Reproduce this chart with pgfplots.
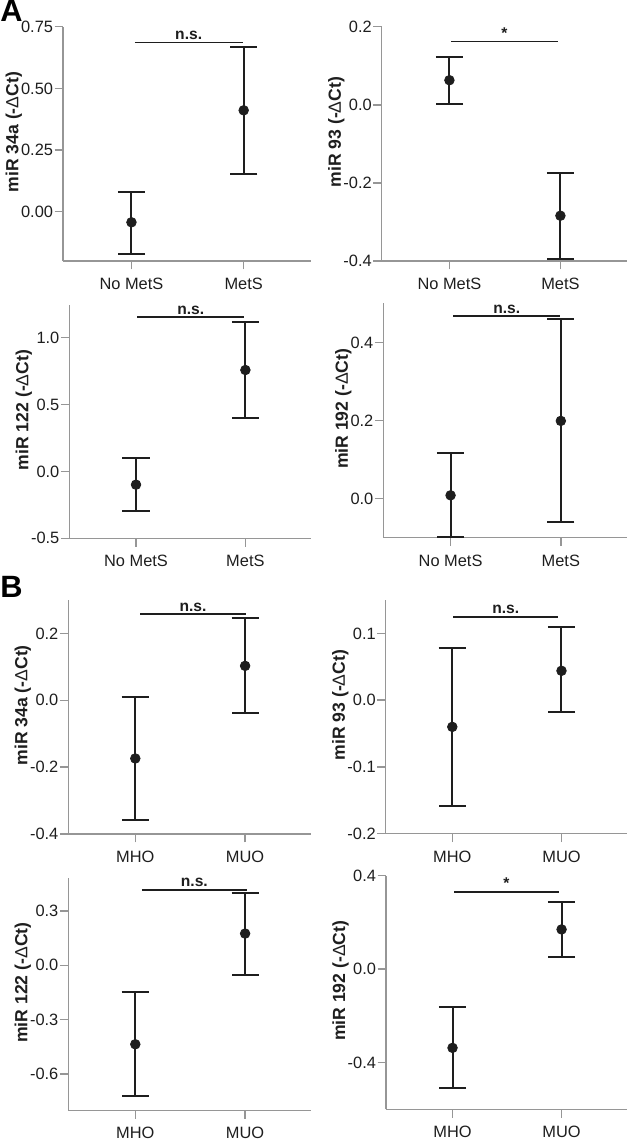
\documentclass[border=0pt]{standalone}
\usepackage{pgfplots}
\pgfplotsset{compat=1.18}
\usepackage{fontspec}
\setmainfont{Liberation Sans}
\definecolor{axgray}{RGB}{150,150,150}
\definecolor{ink}{RGB}{30,30,30}
\tikzset{siglab/.style={above, inner sep=1pt, font=\bfseries\fontsize{7.8}{9}\selectfont, text=ink}}
\pgfplotsset{
  panel/.style={
    scale only axis, anchor=south west, clip=false,
    xmin=-0.61, xmax=1.6, xtick={0,1},
    axis lines*=left,
    axis line style={draw=axgray, line width=0.7pt},
    tick align=outside, major tick length=4.2pt,
    every tick/.style={draw=axgray, line width=0.7pt},
    tick label style={font=\fontsize{8.2}{9.8}\selectfont, text=ink},
    yticklabel style={inner sep=0.6pt},
    xticklabel style={yshift=-0.7pt},
    /pgf/number format/assume math mode=true,
    /pgf/number format/fixed, /pgf/number format/fixed zerofill,
    ylabel style={font=\bfseries\fontsize{8.8}{10}\selectfont, text=ink, at={(ticklabel cs:0.55)}, inner sep=1.2pt},
    ylabel shift=-2.5pt,
  },
  pts/.style={only marks, mark=*, mark size=2.4pt, color=ink,
    error bars/.cd, y dir=both, y explicit,
    error bar style={line width=1pt, color=ink},
    error mark options={rotate=90, mark size=6.8pt, line width=1pt, color=ink}},
  sig/.style={draw=ink, line width=0.85pt, mark=none},
}
\begin{document}
\begin{tikzpicture}
\path[use as bounding box] (0,0) rectangle (315.5pt,-570.5pt);
\node[anchor=base west, inner sep=0pt, font=\bfseries\fontsize{15.4}{18}\selectfont] at (0pt,-10.9pt) {A};
\node[anchor=base west, inner sep=0pt, font=\bfseries\fontsize{15.4}{18}\selectfont] at (0pt,-298.6pt) {B};

% Panel 1
\begin{axis}[panel, at={(31.5pt,-130.5pt)}, width=124pt, height=117.15pt,
  ymin=-0.2, ymax=0.75, ytick={0,0.25,0.5,0.75}, /pgf/number format/precision=2,
  xticklabels={No MetS, MetS}, ylabel={miR 34a (-{\mdseries Δ}Ct)}]
\addplot[pts] table[x=x, y=y, y error plus=ep, y error minus=em] {
x y ep em
0 -0.043 0.123 0.127
1 0.411 0.258 0.259
};
\addplot[sig] coordinates {(0.03,0.686) (0.99,0.686)} node[pos=0.5, siglab] {n.s.};
\end{axis}

% Panel 2
\begin{axis}[panel, at={(190.85pt,-130.5pt)}, width=122.65pt, height=117.15pt,
  ymin=-0.4, ymax=0.2, ytick={-0.4,-0.2,0,0.2}, /pgf/number format/precision=1,
  xticklabels={No MetS, MetS}, ylabel={miR 93 (-{\mdseries Δ}Ct)}]
\addplot[pts] table[x=x, y=y, y error plus=ep, y error minus=em] {
x y ep em
0 0.063 0.060 0.060
1 -0.284 0.110 0.111
};
\addplot[sig] coordinates {(0.015,0.162) (0.975,0.162)} node[pos=0.5, siglab] {*};
\end{axis}

% Panel 3
\begin{axis}[panel, at={(34.65pt,-269.15pt)}, width=120.85pt, height=116.65pt,
  ymin=-0.5, ymax=1.244, ytick={-0.5,0,0.5,1.0}, /pgf/number format/precision=1,
  xticklabels={No MetS, MetS}, ylabel={miR 122 (-{\mdseries Δ}Ct)}]
\addplot[pts] table[x=x, y=y, y error plus=ep, y error minus=em] {
x y ep em
0 -0.099 0.196 0.200
1 0.758 0.361 0.360
};
\addplot[sig] coordinates {(0.012,1.153) (0.99,1.153)} node[pos=0.5, siglab] {n.s.};
\end{axis}

% Panel 4
\begin{axis}[panel, at={(191.65pt,-268.85pt)}, width=121.85pt, height=117.2pt,
  ymin=-0.1, ymax=0.5, ytick={0,0.2,0.4}, /pgf/number format/precision=1,
  xticklabels={No MetS, MetS}, ylabel={miR 192 (-{\mdseries Δ}Ct)}]
\addplot[pts] table[x=x, y=y, y error plus=ep, y error minus=em] {
x y ep em
0 0.0085 0.1075 0.1065
1 0.199 0.260 0.259
};
\addplot[sig] coordinates {(0.025,0.467) (0.994,0.467)} node[pos=0.5, siglab] {n.s.};
\end{axis}

% Panel 5
\begin{axis}[panel, at={(34.15pt,-417pt)}, width=121.35pt, height=117pt,
  ymin=-0.4, ymax=0.3, ytick={-0.4,-0.2,0,0.2}, /pgf/number format/precision=1,
  xticklabels={MHO, MUO}, ylabel={miR 34a (-{\mdseries Δ}Ct)}]
\addplot[pts] table[x=x, y=y, y error plus=ep, y error minus=em] {
x y ep em
0 -0.174 0.183 0.183
1 0.103 0.144 0.141
};
\addplot[sig] coordinates {(0.045,0.258) (1.006,0.258)} node[pos=0.5, siglab] {n.s.};
\end{axis}

% Panel 6
\begin{axis}[panel, at={(192.85pt,-416.85pt)}, width=120.65pt, height=116.85pt,
  ymin=-0.2, ymax=0.15, ytick={-0.2,-0.1,0,0.1}, /pgf/number format/precision=1,
  xticklabels={MHO, MUO}, ylabel={miR 93 (-{\mdseries Δ}Ct)}]
\addplot[pts] table[x=x, y=y, y error plus=ep, y error minus=em] {
x y ep em
0 -0.040 0.118 0.118
1 0.044 0.065 0.062
};
\addplot[sig] coordinates {(0.01,0.125) (0.97,0.125)} node[pos=0.5, siglab] {n.s.};
\end{axis}

% Panel 7
\begin{axis}[panel, at={(34.15pt,-555.1pt)}, width=121.35pt, height=115.95pt,
  ymin=-0.8, ymax=0.48, ytick={-0.6,-0.3,0,0.3}, /pgf/number format/precision=1,
  xticklabels={MHO, MUO}, ylabel={miR 122 (-{\mdseries Δ}Ct)}]
\addplot[pts] table[x=x, y=y, y error plus=ep, y error minus=em] {
x y ep em
0 -0.436 0.290 0.288
1 0.175 0.223 0.226
};
\addplot[sig] coordinates {(0.06,0.416) (1.015,0.416)} node[pos=0.5, siglab] {n.s.};
\end{axis}

% Panel 8
\begin{axis}[panel, at={(193pt,-554.65pt)}, width=120.5pt, height=116.8pt,
  ymin=-0.6, ymax=0.4, ytick={-0.4,0,0.4}, /pgf/number format/precision=1,
  xticklabels={MHO, MUO}, ylabel={miR 192 (-{\mdseries Δ}Ct)}]
\addplot[pts] table[x=x, y=y, y error plus=ep, y error minus=em] {
x y ep em
0 -0.337 0.173 0.173
1 0.170 0.119 0.120
};
\addplot[sig] coordinates {(0.015,0.331) (0.972,0.331)} node[pos=0.5, siglab] {*};
\end{axis}
\end{tikzpicture}
\end{document}
